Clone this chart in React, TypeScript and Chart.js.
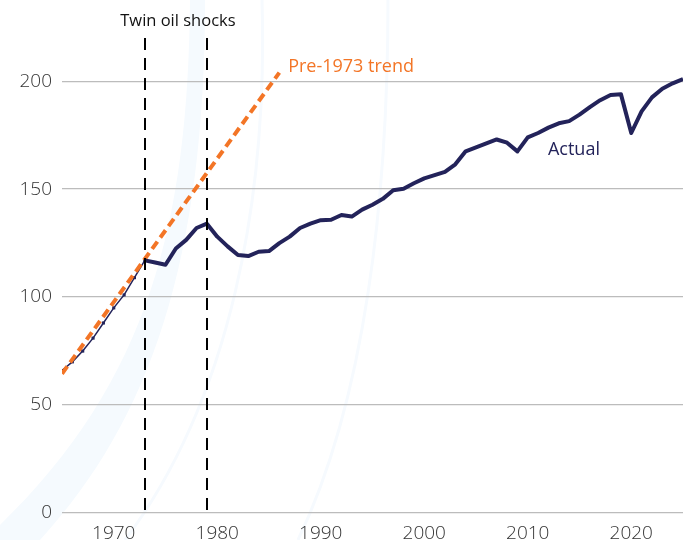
import React, { useEffect, useRef } from "react";
import { Chart, registerables } from "chart.js";

Chart.register(...registerables);

const years: number[] = [
  1965, 1966, 1967, 1968, 1969, 1970, 1971, 1972, 1973, 1974,
  1975, 1976, 1977, 1978, 1979, 1980, 1981, 1982, 1983, 1984,
  1985, 1986, 1987, 1988, 1989, 1990, 1991, 1992, 1993, 1994,
  1995, 1996, 1997, 1998, 1999, 2000, 2001, 2002, 2003, 2004,
  2005, 2006, 2007, 2008, 2009, 2010, 2011, 2012, 2013, 2014,
  2015, 2016, 2017, 2018, 2019, 2020, 2021, 2022, 2023, 2024, 2025,
];

const actual: number[] = [
  66, 70, 75, 81, 88, 95, 101, 109, 117, 116,
  115, 122.5, 126.5, 132, 134, 128, 123.5, 119.5, 119, 121,
  121.3, 125, 128, 132, 134, 135.6, 135.8, 138, 137.3, 140.5,
  142.8, 145.5, 149.5, 150.2, 152.7, 155, 156.5, 158, 161.5, 167.5,
  169.3, 171.2, 173, 171.5, 167.5, 174, 176, 178.5, 180.5, 181.5,
  184.5, 188, 191.2, 193.6, 194, 176, 186, 192.5, 196.5, 199, 201,
];

const trendYears: number[] = [1965, 1986];
const trendValues: number[] = [64.5, 204];

const shockYears: number[] = [1973, 1979];
const breakYear = 1973;

const xTicks: number[] = [1970, 1980, 1990, 2000, 2010, 2020];
const yTicks: number[] = [0, 50, 100, 150, 200];

const NAVY = "#23235a";
const ORANGE = "#f37526";
const FONT = "'Open Sans', 'Noto Sans', sans-serif";

const annotationsPlugin = {
  id: "annotations",
  beforeDraw(chart: any) {
    const ctx = chart.ctx as CanvasRenderingContext2D;
    ctx.save();
    // faint watermark arcs
    ctx.fillStyle = "#f5fafe";
    ctx.beginPath();
    ctx.moveTo(190, 0);
    ctx.bezierCurveTo(188, 220, 150, 380, 0, 525);
    ctx.lineTo(0, 540);
    ctx.lineTo(40, 540);
    ctx.bezierCurveTo(150, 420, 205, 260, 205, 0);
    ctx.closePath();
    ctx.fill();
    ctx.strokeStyle = "#f6fafe";
    ctx.lineWidth = 3;
    ctx.beginPath();
    ctx.moveTo(262, 0);
    ctx.bezierCurveTo(268, 200, 230, 400, 125, 540);
    ctx.stroke();
    ctx.beginPath();
    ctx.moveTo(388, 0);
    ctx.bezierCurveTo(388, 200, 365, 400, 298, 540);
    ctx.stroke();
    ctx.restore();
  },
  afterDatasetsDraw(chart: any) {
    const ctx = chart.ctx as CanvasRenderingContext2D;
    const xs = chart.scales.x;
    const ys = chart.scales.y;
    const area = chart.chartArea;
    ctx.save();
    ctx.strokeStyle = "#000";
    ctx.lineWidth = 2;
    ctx.setLineDash([12, 8]);
    shockYears.forEach((yr) => {
      const px = Math.round(xs.getPixelForValue(yr));
      ctx.beginPath();
      ctx.moveTo(px, area.top);
      ctx.lineTo(px, area.bottom);
      ctx.stroke();
    });
    ctx.setLineDash([]);
    ctx.textBaseline = "middle";

    ctx.font = `16.5px ${FONT}`;
    ctx.fillStyle = "#111";
    ctx.textAlign = "center";
    ctx.fillText("Twin oil shocks", xs.getPixelForValue(1976.2), ys.getPixelForValue(227.8));

    ctx.font = `18px ${FONT}`;
    ctx.textAlign = "left";
    ctx.fillStyle = ORANGE;
    ctx.fillText("Pre-1973 trend", xs.getPixelForValue(1986.85), ys.getPixelForValue(206.5));

    ctx.fillStyle = NAVY;
    ctx.fillText("Actual", xs.getPixelForValue(2011.95), ys.getPixelForValue(168));
    ctx.restore();
  },
};

export default function App() {
  const ref = useRef<HTMLCanvasElement | null>(null);

  useEffect(() => {
    document.body.style.margin = "0";
    if (!ref.current) return;
    const pre = years
      .map((x, i) => ({ x, y: actual[i] }))
      .filter((p) => p.x <= breakYear);
    const post = years
      .map((x, i) => ({ x, y: actual[i] }))
      .filter((p) => p.x >= breakYear);
    const trend = trendYears.map((x, i) => ({ x, y: trendValues[i] }));

    const chart = new Chart(ref.current, {
      type: "line",
      data: {
        datasets: [
          {
            label: "Actual (pre-1973)",
            data: pre,
            borderColor: NAVY,
            backgroundColor: NAVY,
            borderWidth: 1.5,
            pointRadius: 2.2,
            pointStyle: "rect",
            pointBorderWidth: 0,
            order: 3,
          },
          {
            label: "Pre-1973 trend",
            data: trend,
            borderColor: ORANGE,
            borderWidth: 4,
            borderDash: [9, 5],
            pointRadius: 0,
            order: 2,
          },
          {
            label: "Actual",
            data: post,
            borderColor: NAVY,
            borderWidth: 4,
            pointRadius: 0,
            borderJoinStyle: "round",
            order: 1,
          },
        ],
      },
      options: {
        responsive: false,
        animation: false,
        layout: { padding: { top: 38, right: 6, left: 0, bottom: 0 } },
        plugins: { legend: { display: false }, tooltip: { enabled: false } },
        scales: {
          x: {
            type: "linear",
            min: 1965,
            max: 2025,
            afterBuildTicks: (axis: any) => {
              axis.ticks = xTicks.map((v) => ({ value: v }));
            },
            afterFit: (axis: any) => {
              axis.height = 27;
            },
            grid: { display: false, drawTicks: false },
            border: { display: false },
            ticks: {
              padding: 9,
              color: "#333",
              font: { family: FONT, size: 19, weight: "300" },
              callback: (v: any) => String(v),
              maxRotation: 0,
              autoSkip: false,
            },
          },
          y: {
            min: 0,
            max: 220,
            afterBuildTicks: (axis: any) => {
              axis.ticks = yTicks.map((v) => ({ value: v }));
            },
            afterFit: (axis: any) => {
              axis.width = 62;
            },
            grid: { color: "#bcbcbc", lineWidth: 1.3, drawTicks: false },
            border: { display: false },
            ticks: {
              padding: 10,
              color: "#333",
              font: { family: FONT, size: 19, weight: "300" },
              callback: (v: any) => String(v),
            },
          },
        },
      },
      plugins: [annotationsPlugin],
    });
    return () => chart.destroy();
  }, []);

  return (
    <div style={{ width: 689, height: 540 }}>
      <canvas ref={ref} width={689} height={540} />
    </div>
  );
}
